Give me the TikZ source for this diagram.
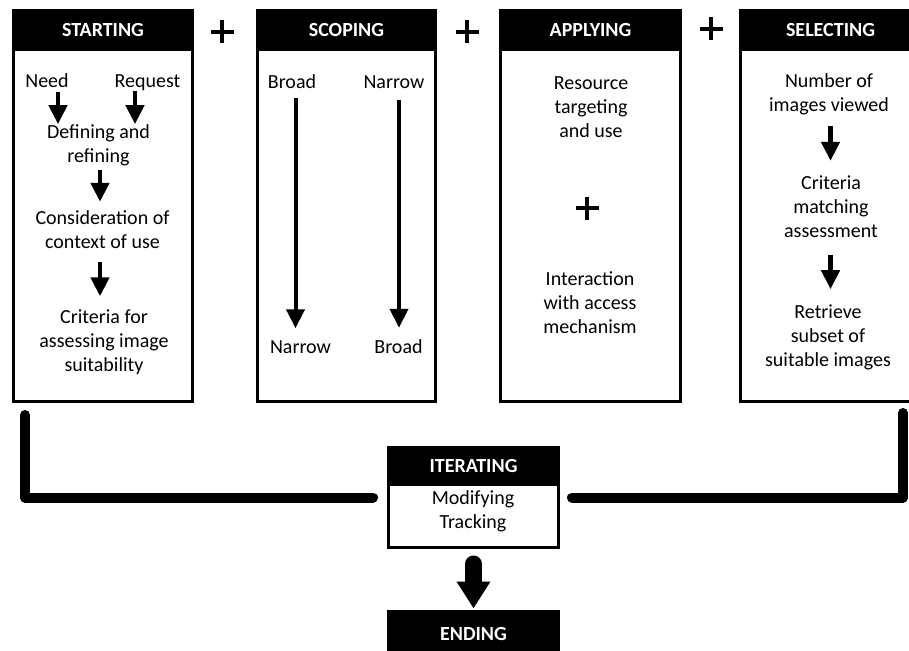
\documentclass[tikz,border=0pt]{standalone}
\usepackage{fontspec}
\setmainfont{Carlito}
\usepackage{tikz}
\usetikzlibrary{arrows.meta, positioning, calc}

\begin{document}
\begin{tikzpicture}[
    x=1pt, y=-1pt,
    stage/.style={draw, line width=3pt, inner sep=0pt, minimum height=391pt},
    head/.style={draw=black, fill=black, line width=3pt, text=white, inner sep=0pt, font=\bfseries\fontsize{20}{24}\selectfont},
    txt/.style={align=center, inner sep=0pt, font=\fontsize{20}{24}\selectfont},
    arr/.style={line width=4.5pt, -{Triangle[width=18pt, length=19pt]}},
    fat/.style={line width=17pt, line cap=round, -{Triangle[width=32pt, length=27pt]}},
    bracket/.style={line width=10pt, line cap=round, line join=round}
]
  \useasboundingbox (0,0) rectangle (909,650);

  % Stage boxes
  \node[stage, minimum width=179pt] (start) at (103, 206) {};
  \node[head, minimum width=179pt, minimum height=39pt, anchor=north] (starthd) at (start.north) {STARTING};

  \node[stage, minimum width=178pt] (scope) at (346.5, 206) {};
  \node[head, minimum width=178pt, minimum height=39pt, anchor=north] (scopehd) at (scope.north) {SCOPING};

  \node[stage, minimum width=180pt] (apply) at (590.5, 206) {};
  \node[head, minimum width=180pt, minimum height=39pt, anchor=north] (applyhd) at (apply.north) {APPLYING};

  \node[stage, minimum width=180pt] (select) at (830.5, 206) {};
  \node[head, minimum width=180pt, minimum height=39pt, anchor=north] (selecthd) at (select.north) {SELECTING};

  % Plus signs
  \foreach \px/\py in {222/32, 467/32, 711/29, 587/208}
    \draw[line width=3.5pt] (\px-11.5, \py) -- (\px+11.5, \py) (\px, \py-11.5) -- (\px, \py+11.5);

  % Starting
  \node[txt, anchor=base] (need) at (47, 88) {Need};
  \node[txt, anchor=base] (req) at (147.5, 88) {Request};
  \node[txt] (def) at (98.5, 145) {Defining and\\refining};
  \node[txt] (cons) at (102.5, 230) {Consideration of\\context of use};
  \node[txt] (crit) at (104, 342) {Criteria for\\assessing image\\suitability};

  \draw[arr, shorten <=4pt] ([xshift=11pt]need.south) -- ([xshift=-40.5pt]def.north);
  \draw[arr] ([xshift=-12.5pt]req.south) -- ([xshift=36.5pt]def.north);
  \draw[arr, shorten <=4pt, shorten >=9pt] ([xshift=1.5pt]def.south) -- ([xshift=-2.5pt]cons.north);
  \draw[arr, shorten <=13pt, shorten >=13pt] ([xshift=-2.5pt]cons.south) -- ([xshift=-4pt]crit.north);

  % Scoping
  \node[txt] (broad) at (292, 82) {Broad};
  \node[txt] (narrowtop) at (394, 82) {Narrow};
  \node[txt] (narrowbot) at (300.5, 347) {Narrow};
  \node[txt] (broadbot) at (398.5, 347) {Broad};

  \draw[arr, line width=4pt, shorten <=9pt, shorten >=12pt] ([xshift=3.5pt]broad.south) -- ([xshift=-5pt]narrowbot.north);
  \draw[arr, line width=4pt, shorten <=11pt, shorten >=12pt] ([xshift=5pt]narrowtop.south) -- ([xshift=0.5pt]broadbot.north);

  % Applying
  \node[txt] (res) at (591, 107) {Resource\\targeting\\and use};
  \node[txt] (inter) at (590, 303) {Interaction\\with access\\mechanism};

  % Selecting
  \node[txt] (num) at (829, 94) {Number of\\images viewed};
  \node[txt] (match) at (831, 207) {Criteria\\matching\\assessment};
  \node[txt] (ret) at (828, 337) {Retrieve\\subset of\\suitable images};

  \draw[arr, shorten <=11pt, shorten >=15pt] ([xshift=1.5pt]num.south) -- ([xshift=-0.5pt]match.north);
  \draw[arr, shorten <=17pt, shorten >=15pt] ([xshift=-0.5pt]match.south) -- ([xshift=2.5pt]ret.north);

  % Iterating and ending
  \node[draw, line width=3pt, inner sep=0pt, minimum width=170pt, minimum height=100pt] (iter) at (473.5, 497.5) {};
  \node[head, minimum width=170pt, minimum height=37pt, anchor=north] (iterhd) at (iter.north) {ITERATING};
  \node[txt] (modtrack) at (473, 511.5) {Modifying\\Tracking};
  \node[head, minimum width=170pt, minimum height=45pt] (ending) at (473.5, 634) {ENDING};

  \draw[fat, shorten <=15pt, shorten >=1.5pt] (iter.south) -- (ending.north);

  % Loop back brackets
  \draw[bracket] ([xshift=13pt, yshift=-12pt]start.south west) |- ([xshift=-14pt]iter.west);
  \draw[bracket] ([xshift=72.5pt, yshift=-10pt]select.south) |- ([xshift=12pt]iter.east);
\end{tikzpicture}
\end{document}
